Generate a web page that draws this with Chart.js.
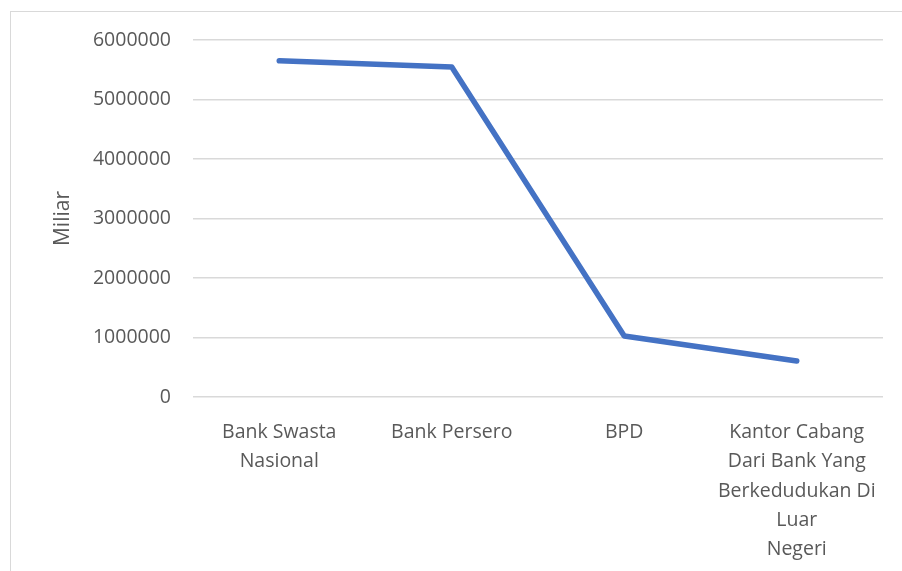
<!DOCTYPE html>
<html>
<head>
<meta charset="utf-8">
<script src="https://cdn.jsdelivr.net/npm/chart.js@4.4.0/dist/chart.umd.min.js"></script>
<style>
  html, body { margin: 0; padding: 0; background: #fff; overflow: hidden; }
  #wrap { position: relative; width: 902px; height: 571px; }
  #frame { position: absolute; left: 10px; top: 11px; width: 1000px; height: 1000px; border: 1.5px solid #d9d9d9; box-sizing: border-box; }
  canvas { position: absolute; left: 0; top: 0; }
</style>
</head>
<body>
<div id="wrap">
  <div id="frame"></div>
  <canvas id="lineChart" width="902" height="571"></canvas>
</div>
<script>
// Categories and values (Miliar)
const categories = [
    ['Bank Swasta', 'Nasional'],
    ['Bank Persero'],
    ['BPD'],
    ['Kantor Cabang', 'Dari Bank Yang', 'Berkedudukan Di', 'Luar', 'Negeri']
];
const values = [5650000, 5545000, 1025000, 605000];
const yTicks = [0, 1000000, 2000000, 3000000, 4000000, 5000000, 6000000];

const fontFamily = "'Open Sans', 'Noto Sans', sans-serif";

document.addEventListener('DOMContentLoaded', function () {
    const ctx = document.getElementById('lineChart');
    new Chart(ctx, {
        type: 'line',
        data: {
            labels: categories,
            datasets: [{
                label: 'Miliar',
                data: values,
                borderColor: '#4472c4',
                borderWidth: 5.5,
                borderCapStyle: 'round',
                borderJoinStyle: 'round',
                fill: false,
                tension: 0,
                pointRadius: 0
            }]
        },
        options: {
            responsive: false,
            animation: false,
            devicePixelRatio: 1,
            layout: { padding: { top: 40, right: 19, left: 0, bottom: 0 } },
            plugins: {
                legend: { display: false },
                tooltip: { enabled: false }
            },
            scales: {
                x: {
                    offset: true,
                    grid: { display: false },
                    border: { display: false },
                    ticks: {
                        color: '#595959',
                        font: { family: fontFamily, size: 19.5, lineHeight: 1.5 },
                        padding: 13,
                        maxRotation: 0,
                        autoSkip: false
                    },
                    afterFit: function (scale) { scale.height = 174; }
                },
                y: {
                    min: 0,
                    max: 6000000,
                    afterBuildTicks: function (scale) {
                        scale.ticks = yTicks.map(v => ({ value: v }));
                    },
                    grid: { color: '#d9d9d9', lineWidth: 1.5, drawTicks: false },
                    border: { display: false },
                    ticks: {
                        color: '#595959',
                        font: { family: fontFamily, size: 19.5 },
                        padding: 22,
                        callback: function (v) { return String(v); }
                    },
                    title: {
                        display: true,
                        text: 'Miliar',
                        color: '#595959',
                        font: { family: fontFamily, size: 21 },
                        padding: { top: 50, bottom: 0 }
                    },
                    afterFit: function (scale) { scale.width = 193; }
                }
            }
        }
    });
});
</script>
</body>
</html>
